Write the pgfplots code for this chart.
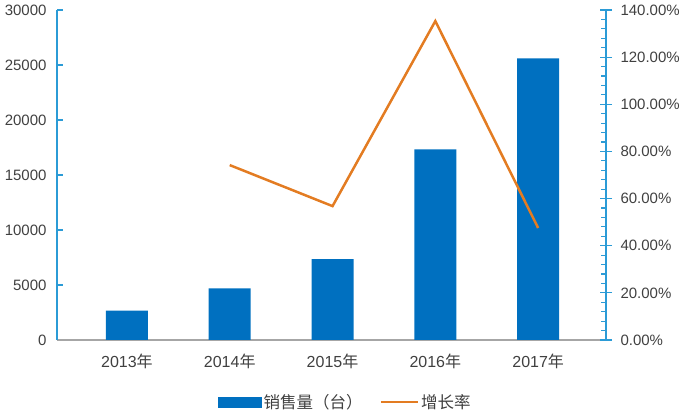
\documentclass[border=0pt]{standalone}
\usepackage{fontspec}
\setmainfont{Liberation Sans}
\newfontfamily\cjk{Noto Sans CJK SC}
\usepackage{pgfplots}
\pgfplotsset{compat=1.18}
\definecolor{barblue}{HTML}{0070C0}
\definecolor{lineorange}{HTML}{E37C22}
\definecolor{axblue}{HTML}{2B9BD6}
\definecolor{axgray}{HTML}{A6A6A6}
\definecolor{txt}{HTML}{404040}
\begin{document}
\begin{tikzpicture}[font=\fontsize{15}{18}\selectfont]
\path[use as bounding box] (-57pt,-79pt) rectangle (635pt,340pt);
\begin{axis}[
  scale only axis, width=549pt, height=330pt,
  xmin=-0.68, xmax=4.66, ymin=0, ymax=30000,
  axis y line*=left, axis x line*=bottom,
  x axis line style={-, draw=axgray, line width=1.2pt},
  y axis line style={-, draw=axblue, line width=1.5pt},
  xtick={0,1,2,3,4},
  xticklabels={2013{\cjk 年},2014{\cjk 年},2015{\cjk 年},2016{\cjk 年},2017{\cjk 年}},
  major x tick style={draw=none},
  ytick={0,5000,10000,15000,20000,25000,30000},
  scaled y ticks=false,
  /pgf/number format/assume math mode=true,
  /pgf/number format/1000 sep={},
  tick align=inside,
  major tick length=6pt,
  major y tick style={draw=axblue, line width=1.2pt},
  yticklabel style={text=txt, xshift=-7pt},
  xticklabel style={text=txt, yshift=-4pt, font=\fontsize{16}{19}\selectfont},
  ybar, bar width=42pt,
]
\addplot[fill=barblue, draw=none] coordinates {(0,2660) (1,4700) (2,7360) (3,17340) (4,25600)};
\end{axis}
\begin{axis}[
  scale only axis, width=549pt, height=330pt,
  xmin=-0.68, xmax=4.66, ymin=0, ymax=140,
  axis y line*=right, axis x line=none,
  y axis line style={-, draw=axblue, line width=1.5pt},
  ytick={0,20,40,60,80,100,120,140},
  minor y tick num=4,
  /pgf/number format/assume math mode=true,
  yticklabel={\pgfmathprintnumber[fixed,fixed zerofill,precision=2]{\tick}\%},
  tick align=center,
  major tick length=12pt,
  minor tick length=5pt,
  major y tick style={draw=axblue, line width=1.2pt},
  minor y tick style={draw=axblue, line width=1.2pt, xshift=-2.5pt},
  yticklabel style={text=txt, xshift=5pt},
  legend style={draw=none, fill=none, at={(0.5255,-0.188)}, anchor=center,
    legend columns=2, font=\fontsize{16.5}{19}\selectfont, text=txt,
    /tikz/every even column/.append style={column sep=15pt}},
]
\addlegendimage{legend image code/.code={\fill[barblue] (0pt,-5pt) rectangle (43pt,5pt);}}
\addlegendentry{{\cjk 销售量（台）}}
\addplot[lineorange, line width=2.5pt, legend image code/.code={\draw[lineorange, line width=2.5pt] (0pt,0pt) -- (37pt,0pt);}]
  coordinates {(1,74.2) (2,56.8) (3,135.3) (4,47.5)};
\addlegendentry{{\cjk 增长率}}
\end{axis}
\end{tikzpicture}
\end{document}
